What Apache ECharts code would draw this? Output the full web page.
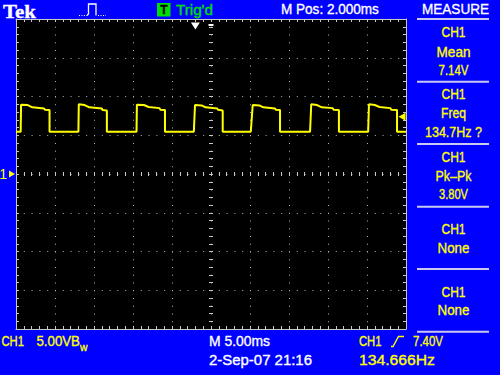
<!DOCTYPE html>
<html><head><meta charset="utf-8">
<script src="https://cdn.jsdelivr.net/npm/echarts@6/dist/echarts.min.js"></script>
<style>html,body{margin:0;padding:0;background:#0000ff}#c{width:500px;height:375px}</style>
</head><body><div id="c"></div>
<script>
// ---- data (time in ms relative to trigger, volts) ----
const traceTimeMs = [
  -23, -22.4, -22.35, -21.5, -20.9, -19.4, -19.3, -18.7, -18.7,
  -15.0, -14.95, -14.2, -13.6, -12.0, -11.9, -11.35, -11.35,
  -7.55, -7.5, -6.6, -6.0, -4.6, -4.5, -3.9, -3.9,
  -0.2, -0.05, 0.8, 1.3, 2.8, 2.9, 3.5, 3.5,
  7.1, 7.35, 8.2, 8.7, 10.2, 10.3, 10.85, 10.85,
  14.7, 14.85, 15.6, 16.2, 17.6, 17.7, 18.4, 18.4,
  22.15, 22.25, 23.0, 23.6, 25.0, 25.1, 25.85, 25.85,
  27
];
const traceVolts = [
  5.45, 5.45, 8.95, 8.9, 8.6, 8.45, 8.3, 8.25, 5.45,
  5.45, 9.0, 8.9, 8.6, 8.45, 8.25, 8.2, 5.45,
  5.45, 8.95, 8.9, 8.65, 8.5, 8.3, 8.25, 5.45,
  5.45, 8.9, 8.85, 8.6, 8.45, 8.3, 8.2, 5.45,
  5.45, 8.9, 8.85, 8.6, 8.45, 8.3, 8.25, 5.45,
  5.45, 9.0, 8.9, 8.6, 8.5, 8.3, 8.25, 5.45,
  5.45, 9.0, 8.9, 8.65, 8.5, 8.3, 8.25, 5.45,
  5.45
];
const timeWindowMs = [-23, 27];   // 10 div x 5 ms, M Pos 2.000 ms at centre
const voltWindow = [-20, 20];     // 8 div x 5 V, ground at centre
const horizPosMs = 2.0;
const triggerTimeMs = 0;
const triggerLevelV = 7.40;
const groundV = 0;
const divisionsX = 10;
const divisionsY = 8;
const measureTitles = ['CH1', 'CH1', 'CH1', 'CH1', 'CH1'];
const measureNames = ['Mean', 'Freq', 'Pk\u2013Pk', 'None', 'None'];
const measureValues = ['7.14V', '134.7Hz ?', '3.80V', '', ''];
const headerTexts = ['Tek', "Trig'd", 'M Pos: 2.000ms', 'MEASURE'];
const footerTexts = ['CH1', '5.00VB', 'w', 'M 5.00ms', '2-Sep-07 21:16', 'CH1', '7.40V', '134.666Hz'];

// ---- helpers ----
const FONT = "'Liberation Sans', Arial, sans-serif";
const mctx = document.createElement('canvas').getContext('2d');
function fitScale(str, font, w) { mctx.font = font; const m = mctx.measureText(str).width; return m > 0 ? w / m : 1; }
function txt(str, x, y, w, color, size, align, fontOverride) {
  const font = fontOverride || ('normal ' + size + 'px ' + FONT);
  const s = w ? fitScale(str, font, w) : 1;
  return { type: 'text', x: x, y: y, scaleX: s, silent: true,
    style: { text: str, x: 0, y: 0, fill: color, stroke: color, lineWidth: 0.35, font: font, align: align || 'left', verticalAlign: 'middle' } };
}
function line(x1, y1, x2, y2, color, w, dash) {
  return { type: 'line', silent: true, shape: { x1, y1, x2, y2 }, style: { stroke: color, lineWidth: w, lineDash: dash || null } };
}
const GC = '#c8c8c8';
function gratAxis(extra) {
  return Object.assign({
    type: 'value', min: 0, interval: 1, silent: true,
    axisLabel: { show: false },
    axisLine: { show: true, onZero: false, lineStyle: { color: GC, width: 1 } },
    axisTick: { show: true, inside: true, length: 3, lineStyle: { color: GC } },
    minorTick: { show: true, splitNumber: 5, length: 3, lineStyle: { color: GC } },
    splitLine: { show: false }
  }, extra);
}
const centreTick = { show: true, inside: true, length: 4, lineStyle: { color: GC } };
const centreMinor = { show: true, splitNumber: 5, length: 4, lineStyle: { color: GC } };

const YEL = '#ffff00', WHT = '#ffffff', GRN = '#00e000', SEP = '#c8c8f0';
const graphics = [];
// header
graphics.push(txt(headerTexts[0], 3, 11, 33, WHT, 19, 'left', 'bold 19px "Liberation Serif", serif'));
graphics.push(line(79, 15.5, 87, 15.5, WHT, 1, [1, 1.5]));
graphics.push({ type: 'polyline', silent: true, shape: { points: [[87, 15.5], [88.5, 14], [88.5, 4], [96, 4], [96, 15.5]] }, style: { stroke: WHT, lineWidth: 1.3, fill: null } });
graphics.push(line(98, 15.5, 106, 15.5, WHT, 1, [1, 1.5]));
graphics.push({ type: 'rect', silent: true, shape: { x: 157, y: 3, width: 13.5, height: 13.5 }, style: { fill: GRN } });
graphics.push(txt('T', 163.8, 10, 0, '#000', 12, 'center', 'bold 12px ' + FONT));
graphics.push(txt(headerTexts[1], 176, 9.5, 37, GRN, 15));
graphics.push(txt(headerTexts[2], 281, 9, 98, WHT, 15));
graphics.push(txt(headerTexts[3], 455.5, 9, 67, WHT, 15, 'center'));
// measure panel
const sepY = [19, 81.7, 144, 206.7, 269, 331.7];
sepY.forEach(y => graphics.push(line(417, y, 489, y, SEP, 2)));
const rowY = [[31.7, 51.7, 70], [94, 113, 132], [156.7, 175.7, 194], [229, 247.7], [291.7, 310]];
const nameW = [34, 25, 36, 32, 32];
const valW = [30, 57, 29];
for (let i = 0; i < measureTitles.length; i++) {
  graphics.push(txt(measureTitles[i], 453.5, rowY[i][0], 24, YEL, 15, 'center'));
  graphics.push(txt(measureNames[i], 453.5, rowY[i][1], nameW[i], YEL, 15, 'center'));
  if (measureValues[i]) graphics.push(txt(measureValues[i], 453.5, rowY[i][2], valW[i], YEL, 15, 'center'));
}
// footer
graphics.push(txt(footerTexts[0], 1.5, 340.5, 22.5, YEL, 15));
graphics.push(txt(footerTexts[1], 36.5, 340.5, 43.5, YEL, 15));
graphics.push(txt(footerTexts[2], 80, 346.5, 7.5, YEL, 11));
graphics.push(txt(footerTexts[3], 209, 340.5, 61, WHT, 15));
graphics.push(txt(footerTexts[4], 209, 359.5, 103, WHT, 15));
graphics.push(txt(footerTexts[5], 359, 340.5, 22.5, YEL, 15));
graphics.push({ type: 'polyline', silent: true, shape: { points: [[391, 346.5], [393, 346.5], [398.5, 336.5], [404, 336.5]] }, style: { stroke: YEL, lineWidth: 1.4, fill: null } });
graphics.push(txt(footerTexts[6], 413, 340.5, 30, YEL, 15));
graphics.push(txt(footerTexts[7], 359, 359.5, 76, YEL, 15));

const chart = echarts.init(document.getElementById('c'), null, { renderer: 'svg', width: 500, height: 375 });
chart.setOption({
  animation: false,
  backgroundColor: '#0000ff',
  grid: { left: 16, top: 19, width: 390, height: 310, show: true, backgroundColor: '#000000', borderWidth: 0, containLabel: false },
  xAxis: [
    { type: 'value', min: timeWindowMs[0], max: timeWindowMs[1], show: false, axisLine: { onZero: false } },
    gratAxis({ max: divisionsX, position: 'bottom', splitLine: { show: true, lineStyle: { color: '#b4b4b4', width: 1, type: [1, 6.75] } } }),
    gratAxis({ max: divisionsX, position: 'top' }),
    gratAxis({ max: divisionsX, position: 'bottom', offset: -153, axisLine: { show: false, onZero: false }, axisTick: centreTick, minorTick: centreMinor })
  ],
  yAxis: [
    { type: 'value', min: voltWindow[0], max: voltWindow[1], show: false, axisLine: { onZero: false } },
    gratAxis({ max: divisionsY, position: 'left', splitLine: { show: true, lineStyle: { color: '#b4b4b4', width: 1, type: [1, 6.8] } } }),
    gratAxis({ max: divisionsY, position: 'right' }),
    gratAxis({ max: divisionsY, position: 'left', offset: -193, axisLine: { show: false, onZero: false }, axisTick: centreTick, minorTick: centreMinor })
  ],
  series: [{
    type: 'line', xAxisIndex: 0, yAxisIndex: 0, showSymbol: false, silent: true, clip: false,
    lineStyle: { color: YEL, width: 2 },
    data: traceTimeMs.map((t, i) => [t, traceVolts[i]]),
    markPoint: {
      silent: true, animation: false, label: { show: false },
      data: [
        { coord: [timeWindowMs[1], triggerLevelV], symbol: 'triangle', symbolRotate: 90, symbolSize: [8, 7], symbolOffset: [-4, 0], itemStyle: { color: YEL } },
        { coord: [timeWindowMs[0], groundV], symbol: 'triangle', symbolRotate: -90, symbolSize: [7, 6], symbolOffset: [-4, 0], itemStyle: { color: YEL },
          label: { show: true, formatter: '1', position: 'left', distance: 2, color: YEL, fontSize: 14, fontFamily: FONT } },
        { coord: [triggerTimeMs, voltWindow[1]], symbol: 'triangle', symbolRotate: 180, symbolSize: [9, 7], symbolOffset: [0, 7], itemStyle: { color: WHT } },
        { coord: [horizPosMs, voltWindow[1]], symbol: 'rect', symbolSize: [5, 2], symbolOffset: [0, 6], itemStyle: { color: WHT } }
      ]
    }
  }],
  graphic: graphics
});
</script></body></html>
